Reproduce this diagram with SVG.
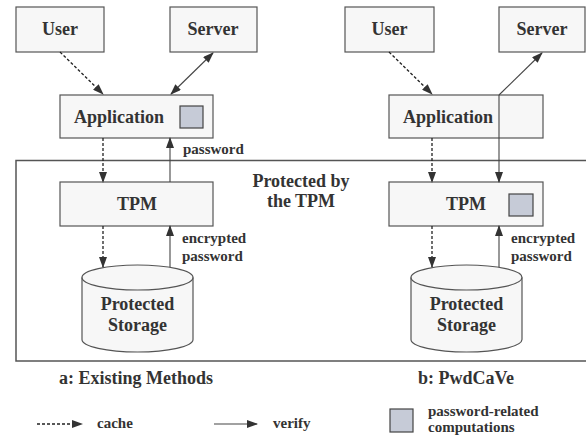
<svg xmlns="http://www.w3.org/2000/svg" width="586" height="436" viewBox="0 0 586 436">
<defs>
<marker id="ah" markerUnits="userSpaceOnUse" markerWidth="11" markerHeight="8" refX="10" refY="4" orient="auto-start-reverse">
<path d="M0,0 L11,4 L0,8 z" fill="#333"/>
</marker>
<style>
.box{fill:#f7f7f7;stroke:#555;stroke-width:1.2}
.sq{fill:#c6cbd7;stroke:#444;stroke-width:1.2}
text{font-family:'Liberation Serif','Times New Roman','DejaVu Serif',serif;font-weight:bold;fill:#333}
.big{font-size:18px}
.sm{font-size:15px}
.mid{text-anchor:middle}
.dash{stroke:#222;stroke-width:1.3;stroke-dasharray:3,2;fill:none}
.sol{stroke:#444;stroke-width:1.1;fill:none}
</style>
</defs>
<rect width="586" height="436" fill="#fff"/>
<g id="protected-region">
<rect x="16" y="160.5" width="580" height="200.5" fill="none" stroke="#555" stroke-width="1.5"/>
<text class="big mid" x="301" y="187">Protected by</text>
<text class="big mid" x="301" y="207">the TPM</text>
</g>
<g id="a-user"><rect class="box" x="16" y="7" width="88" height="45"/><text class="big mid" x="60" y="35">User</text></g>
<g id="a-server"><rect class="box" x="170" y="7" width="87" height="45"/><text class="big mid" x="213" y="35">Server</text></g>
<g id="a-application"><rect class="box" x="60" y="95" width="153" height="43"/><text class="big mid" x="119" y="123">Application</text><rect class="sq" x="180" y="106" width="23" height="22"/></g>
<g id="a-tpm"><rect class="box" x="60" y="182" width="153" height="44"/><text class="big mid" x="137" y="210">TPM</text></g>
<g id="a-storage">
<path class="box" d="M82,277.5 A55.5,12.5 0 0 1 193,277.5 L193,339.5 A55.5,12.5 0 0 1 82,339.5 Z"/>
<path d="M82,277.5 A55.5,12.5 0 0 0 193,277.5" fill="none" stroke="#555" stroke-width="1.2"/>
<text class="big mid" x="137.5" y="310">Protected</text>
<text class="big mid" x="137.5" y="331">Storage</text>
</g>
<g id="b-user"><rect class="box" x="345" y="7" width="89" height="45"/><text class="big mid" x="389.5" y="35">User</text></g>
<g id="b-server"><rect class="box" x="499" y="7" width="86" height="45"/><text class="big mid" x="542" y="35">Server</text></g>
<g id="b-application"><rect class="box" x="389" y="95" width="154" height="43"/><text class="big mid" x="448" y="123">Application</text></g>
<g id="b-tpm"><rect class="box" x="389" y="182" width="154" height="44"/><text class="big mid" x="466" y="210">TPM</text><rect class="sq" x="509" y="194" width="24" height="22"/></g>
<g id="b-storage">
<path class="box" d="M411,277.5 A55.5,12.5 0 0 1 522,277.5 L522,339.5 A55.5,12.5 0 0 1 411,339.5 Z"/>
<path d="M411,277.5 A55.5,12.5 0 0 0 522,277.5" fill="none" stroke="#555" stroke-width="1.2"/>
<text class="big mid" x="466.5" y="310">Protected</text>
<text class="big mid" x="466.5" y="331">Storage</text>
</g>
<g id="connectors">
<line class="dash" x1="60" y1="52" x2="103" y2="94" marker-end="url(#ah)"/>
<line class="sol" x1="213" y1="53" x2="171" y2="94" marker-start="url(#ah)" marker-end="url(#ah)"/>
<line class="dash" x1="103" y1="138" x2="103" y2="182" marker-end="url(#ah)"/>
<line class="sol" x1="170" y1="182" x2="170" y2="138" marker-end="url(#ah)"/>
<line class="dash" x1="103" y1="226" x2="103" y2="267" marker-end="url(#ah)"/>
<line class="sol" x1="170" y1="267" x2="170" y2="226" marker-end="url(#ah)"/>
<line class="dash" x1="389" y1="52" x2="432" y2="94" marker-end="url(#ah)"/>
<line class="sol" x1="499" y1="95" x2="542" y2="53" marker-end="url(#ah)"/>
<line class="sol" x1="499" y1="95" x2="499" y2="182" marker-end="url(#ah)"/>
<line class="dash" x1="432" y1="138" x2="432" y2="182" marker-end="url(#ah)"/>
<line class="dash" x1="432" y1="226" x2="432" y2="267" marker-end="url(#ah)"/>
<line class="sol" x1="499" y1="267" x2="499" y2="226" marker-end="url(#ah)"/>
</g>
<g id="labels">
<text class="sm" x="183" y="154">password</text>
<text class="sm" x="182" y="243">encrypted</text>
<text class="sm" x="182" y="261">password</text>
<text class="sm" x="511" y="243">encrypted</text>
<text class="sm" x="511" y="261">password</text>
<text class="big mid" x="136" y="384">a: Existing Methods</text>
<text class="big mid" x="466" y="384">b: PwdCaVe</text>
</g>
<g id="legend">
<line class="dash" x1="37" y1="424" x2="82" y2="424" marker-end="url(#ah)"/>
<text class="sm" x="97" y="428">cache</text>
<line class="sol" x1="214" y1="424" x2="257" y2="424" marker-end="url(#ah)"/>
<text class="sm" x="273" y="428">verify</text>
<rect class="sq" x="390" y="409" width="23" height="23"/>
<text class="sm" x="428" y="416">password-related</text>
<text class="sm" x="428" y="432">computations</text>
</g>
</svg>
